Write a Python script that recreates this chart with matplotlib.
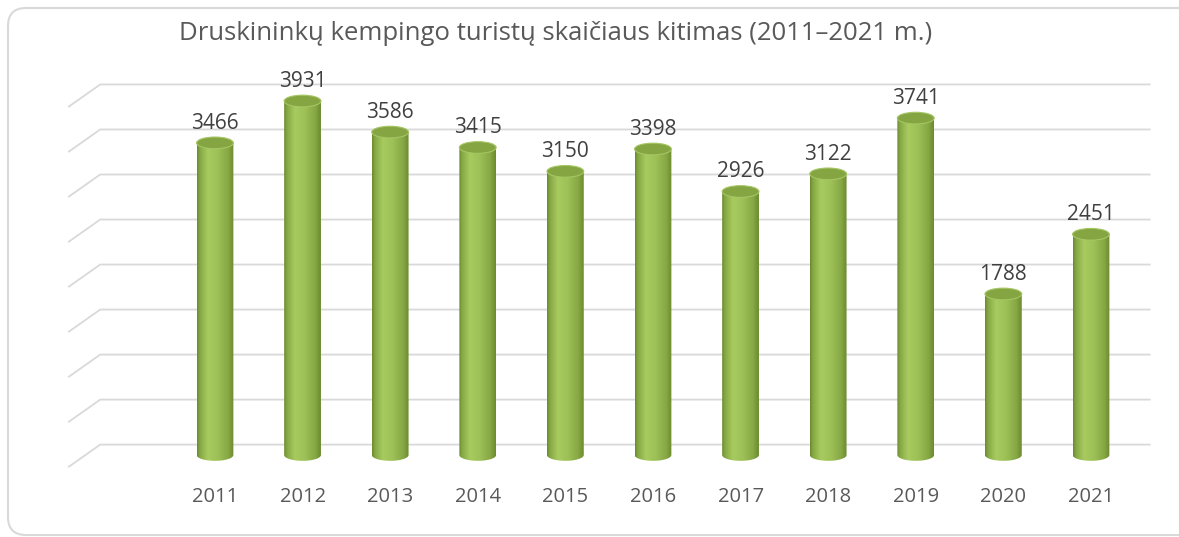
import numpy as np
import matplotlib
matplotlib.use("Agg")
import matplotlib.pyplot as plt
from matplotlib.colors import LinearSegmentedColormap
from matplotlib.patches import Ellipse, PathPatch, FancyBboxPatch
from matplotlib.path import Path
from matplotlib.transforms import IdentityTransform

# Data
years = ["2011", "2012", "2013", "2014", "2015", "2016",
         "2017", "2018", "2019", "2020", "2021"]
tourists = [3466, 3931, 3586, 3415, 3150, 3398, 2926, 3122, 3741, 1788, 2451]
grid_values = np.arange(0, 4001, 500)

title = "Druskininkų kempingo turistų skaičiaus kitimas (2011–2021 m.)"

plt.rcParams["font.family"] = ["Open Sans", "DejaVu Sans"]

fig = plt.figure(figsize=(11.79, 5.37), dpi=100)
ax = fig.add_axes([0, 0, 1, 1])
ax.set_xlim(-2.454, 11.005)
ax.set_ylim(-911, 5053)
ax.axis("off")

# chart border
border = FancyBboxPatch((8, 2), 1200, 527, boxstyle="round,pad=0,rounding_size=18",
                        transform=IdentityTransform(), facecolor="none",
                        edgecolor="#d9d9d9", linewidth=1.5, zorder=5)
fig.patches.append(border)

# back wall gridlines with the 3D floor slant on the left
wall_off = 115
wall_x, front_x, right_x = -1.31, -1.667, 10.67
for g in grid_values:
    gy = g + wall_off
    ax.plot([front_x, wall_x, right_x], [gy - 245, gy, gy],
            color="#d9d9d9", linewidth=1.3, zorder=1)

# cylinders
cmap = LinearSegmentedColormap.from_list(
    "cyl", [(0.0, "#6a8a2c"), (0.08, "#86a844"), (0.3, "#a8cb60"),
            (0.55, "#9fc258"), (0.85, "#86a744"), (1.0, "#6b8a2e")])
grad = np.linspace(0, 1, 256).reshape(1, -1)
w = 0.42
h = 130
t = np.linspace(np.pi, 2 * np.pi, 60)

for i, v in enumerate(tourists):
    x0, x1 = i - w / 2, i + w / 2
    arc_x = i + (w / 2) * np.cos(t)
    arc_y = (h / 2) * np.sin(t)
    verts = [(x0, v)] + list(zip(arc_x, arc_y)) + [(x1, v), (x0, v)]
    codes = [Path.MOVETO] + [Path.LINETO] * (len(verts) - 2) + [Path.CLOSEPOLY]
    clip = PathPatch(Path(verts, codes), facecolor="none", edgecolor="none")
    ax.add_patch(clip)
    im = ax.imshow(grad, cmap=cmap, aspect="auto", extent=[x0, x1, -h, v],
                   zorder=2, interpolation="bilinear")
    im.set_clip_path(clip)
    ax.add_patch(Ellipse((i, v), w, h, facecolor="#84a542",
                         edgecolor="#a6c664", linewidth=0.8, zorder=3))
    ax.annotate(str(v), (i, v + h / 2), xytext=(0, 6), textcoords="offset points",
                ha="center", va="baseline", fontsize=15, color="#404040", zorder=4)
    ax.text(i, -466, years[i], ha="center", va="center", fontsize=14.5,
            color="#595959")

fig.text(0.471, 1 - 33 / 537, title, ha="center", va="center",
         fontsize=18.5, color="#595959")

fig.savefig("out.png", dpi=100)
